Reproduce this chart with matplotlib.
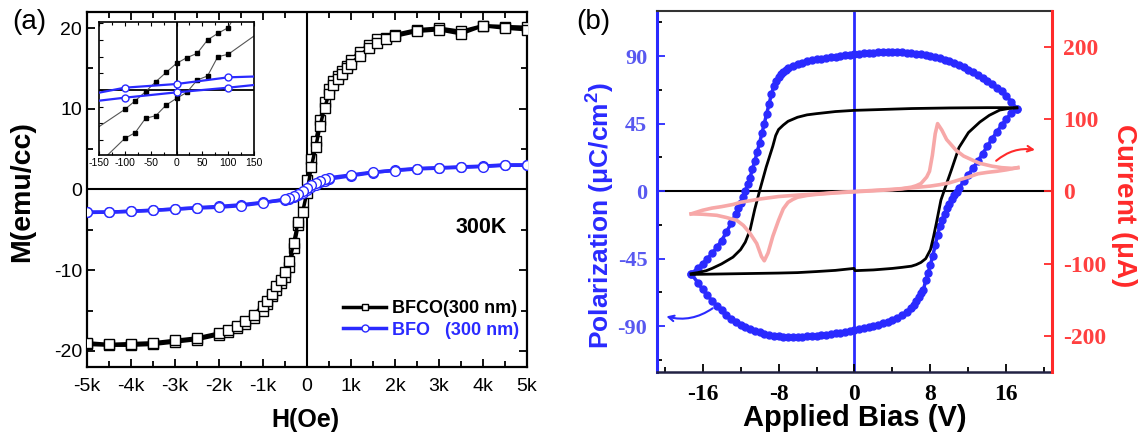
import numpy as np
import matplotlib.pyplot as plt
from matplotlib.ticker import MultipleLocator
from matplotlib.lines import Line2D

plt.rcParams['font.family'] = ['Liberation Sans', 'DejaVu Sans']
plt.rcParams['axes.unicode_minus'] = False
plt.rcParams['mathtext.fontset'] = 'custom'
plt.rcParams['mathtext.rm'] = 'Liberation Sans'
plt.rcParams['mathtext.bf'] = 'Liberation Sans:bold'

# ---- (a) M-H loops at 300 K ----
h_field = [5000, 4500, 4000, 3500, 3000, 2500, 2000, 1800, 1600, 1400, 1200, 1000,
           900, 800, 700, 600, 500, 400, 300, 200, 100, 0, -100, -200, -300, -400,
           -500, -600, -700, -800, -900, -1000, -1200, -1400, -1600, -1800, -2000,
           -2500, -3000, -3500, -4000, -4500, -5000]
bfco_m_down = [20.1, 20.2, 20.3, 19.6, 20.0, 19.8, 19.2, 18.8, 18.6, 17.9, 17.1, 16.0,
               15.3, 14.7, 14.1, 13.4, 12.4, 10.8, 8.6, 6.0, 3.8, 1.2, -1.6, -4.4, -7.2,
               -9.6, -10.9, -11.6, -12.4, -13.2, -14.2, -15.0, -15.9, -16.7, -17.2, -17.7,
               -18.0, -18.6, -18.9, -19.2, -19.3, -19.3, -19.2]
# return branch, listed from -5k up to +5k
bfco_m_up = [-19.0, -19.2, -19.1, -19.0, -18.7, -18.4, -17.8, -17.4, -16.9, -16.3, -15.5,
             -14.4, -13.8, -12.9, -12.0, -11.2, -10.2, -8.9, -6.6, -4.0, -2.8, -0.4, 2.8,
             5.3, 7.9, 10.1, 11.8, 13.0, 13.7, 14.3, 15.0, 15.6, 16.6, 17.5, 18.2, 18.6,
             19.0, 19.6, 19.8, 19.3, 20.3, 20.0, 19.8]

bfo_h = [-5000, -4500, -4000, -3500, -3000, -2500, -2000, -1500, -1000, -500, -400, -300,
         -200, -100, 0, 100, 200, 300, 400, 500, 1000, 1500, 2000, 2500, 3000, 3500,
         4000, 4500, 5000]
bfo_m_up = [-2.85, -2.8, -2.7, -2.55, -2.45, -2.25, -2.1, -1.9, -1.6, -1.3, -1.15, -0.95,
            -0.7, -0.4, -0.1, 0.3, 0.6, 0.9, 1.1, 1.3, 1.7, 2.1, 2.4, 2.6, 2.7, 2.8, 2.9,
            3.05, 3.05]
# listed from +5k down to -5k
bfo_m_down = [3.0, 3.0, 2.85, 2.75, 2.65, 2.55, 2.35, 2.15, 1.8, 1.45, 1.3, 1.1, 0.85,
              0.55, 0.2, -0.2, -0.5, -0.8, -1.0, -1.2, -1.65, -2.0, -2.2, -2.3, -2.4,
              -2.6, -2.7, -2.8, -2.8]

h_ticks = [-5000, -4000, -3000, -2000, -1000, 0, 1000, 2000, 3000, 4000, 5000]
h_ticklabels = ['-5k', '-4k', '-3k', '-2k', '-1k', '0', '1k', '2k', '3k', '4k', '5k']
m_ticks = [-20, -10, 0, 10, 20]

# inset: low-field part of the loops
inset_h = [-150, -100, -80, -60, -40, -20, 0, 20, 40, 60, 80, 100, 150]
inset_bfco_a = [-2.2, -1.16, -0.65, -0.1, 0.5, 1.06, 1.6, 1.94, 2.2, 3.0, 3.4, 3.74, 6.5]
inset_bfco_b = [-4.4, -2.9, -2.56, -1.7, -1.54, -0.9, -0.5, -0.14, 0.6, 0.84, 2.0, 2.14, 3.24]
inset_bfo_h = [-150, -100, 0, 100, 150]
inset_bfo_a = [-0.16, 0.14, 0.36, 0.76, 0.81]
inset_bfo_b = [-0.64, -0.46, -0.14, 0.14, 0.3]
inset_ticks = [-150, -100, -50, 0, 50, 100, 150]

# ---- (b) P-E loops and switching current ----
blue_down_v = [17.1, 16.5, 16.0, 15.5, 15.0, 14.5, 14.0, 13.5, 13.0, 12.5, 12.0, 11.5, 11.0,
               10.5, 10.0, 9.5, 9.0, 8.5, 8.0, 7.5, 7.0, 6.5, 6.0, 5.5, 5.0, 4.5, 4.0, 3.5,
               3.0, 2.5, 2.0, 1.5, 1.0, 0.5, 0.0, -0.5, -1.0, -1.5, -2.0, -2.5, -3.0, -3.5,
               -4.0, -4.5, -5.0, -5.5, -6.0, -6.5, -7.0, -7.25, -7.5, -7.75, -8.0, -8.25,
               -8.5, -8.75, -9.0, -9.25, -9.5, -9.75, -10.0, -10.25, -10.5, -10.75, -11.0,
               -11.25, -11.5, -11.75, -12.0, -12.25, -12.5, -13.0, -13.5, -14.0, -14.5,
               -15.0, -15.5, -16.0, -16.5, -17.2]
blue_down_p = [55, 59.5, 63.5, 66.5, 69, 71.5, 73.5, 75.5, 77.5, 79.3, 81, 82.6, 84, 85.4,
               86.6, 87.6, 88.5, 89.3, 90, 90.6, 91.1, 91.5, 91.9, 92.2, 92.4, 92.5, 92.6,
               92.6, 92.5, 92.4, 92.2, 92, 91.7, 91.4, 91.1, 90.8, 90.4, 90, 89.6, 89.2,
               88.7, 88.2, 87.7, 87.1, 86.4, 85.6, 84.7, 83.5, 81.8, 80.7, 79.5, 78, 76,
               73.5, 70, 64.5, 58, 51.5, 45, 38.5, 32, 26, 20, 14.5, 9, 4.5, 0, -4, -8,
               -11.5, -15, -21.5, -27.5, -33, -37.5, -41.5, -45, -48.5, -51.5, -55]
blue_up_v = [-17.2, -16.5, -16.0, -15.5, -15.0, -14.5, -14.0, -13.5, -13.0, -12.5, -12.0,
             -11.5, -11.0, -10.5, -10.0, -9.5, -9.0, -8.5, -8.0, -7.5, -7.0, -6.5, -6.0,
             -5.5, -5.0, -4.5, -4.0, -3.5, -3.0, -2.5, -2.0, -1.5, -1.0, -0.5, 0.0, 0.5,
             1.0, 1.5, 2.0, 2.5, 3.0, 3.5, 4.0, 4.5, 5.0, 5.5, 6.0, 6.25, 6.5, 6.75, 7.0,
             7.25, 7.5, 7.75, 8.0, 8.25, 8.5, 8.75, 9.0, 9.25, 9.5, 9.75, 10.0, 10.25,
             10.5, 10.75, 11.0, 11.5, 12.0, 12.5, 13.0, 13.5, 14.0, 14.5, 15.0, 15.5,
             16.0, 16.5, 17.1]
blue_up_p = [-55, -61, -65.5, -69.5, -73, -76.5, -79.5, -82.5, -85, -87, -89, -90.5, -92,
             -93, -94, -95, -95.8, -96.4, -96.8, -97, -97.2, -97.2, -97.1, -97, -96.8,
             -96.6, -96.3, -96, -95.6, -95.2, -94.8, -94.3, -93.8, -93.2, -92.6, -92,
             -91.3, -90.6, -89.8, -89, -88, -87, -85.8, -84.5, -82.8, -80.6, -77.8, -76,
             -73.5, -70.5, -68, -66, -59.5, -54.5, -49, -43, -36, -29, -23.5, -19, -15,
             -11.5, -8.5, -5.5, -2.8, -0.3, 2, 6.5, 11, 15.5, 20, 25, 30, 35, 39.5, 44,
             48, 52, 55]

black_down_v = [17.1, 16, 14, 12, 10, 8, 6, 4, 2, 0, -2, -4, -5, -6, -7, -7.5, -8, -8.3,
                -8.6, -9, -9.3, -9.65, -10, -10.5, -11, -11.5, -12, -12.8, -14, -15, -15.6,
                -16.5, -17.2]
black_down_p = [55.5, 55.6, 55.6, 55.5, 55.4, 55.2, 55, 54.6, 54.2, 53.8, 53, 51.6, 50.8,
                49.2, 46.5, 44, 41, 37, 30, 22, 16, 8, 0, -12, -26, -34, -39, -44, -48.5,
                -51.5, -53, -54.3, -55]
black_up_v = [-17.2, -16, -14, -12, -10, -8, -6, -4, -2, -0.05, 0.05, 2, 4, 5, 6, 6.5, 7,
              7.5, 8, 8.3, 8.6, 9.1, 9.7, 10.2, 11, 12, 13.2, 14.2, 15.3, 16.2, 17.1]
black_up_p = [-55.5, -55.4, -55.2, -55, -54.8, -54.6, -54.3, -53.6, -52.8, -51.5, -53,
              -52.5, -51.5, -50.8, -50, -49, -47.5, -45, -39, -31, -22, -6, 5, 14, 29, 39,
              46, 50.5, 54, 55, 55.5]

red_up_v = [-17.2, -16, -15, -14, -12.8, -12, -10, -8, -6, -4, -2, 0, 2, 4, 5, 6, 6.5, 7,
            7.6, 7.9, 8.2, 8.5, 8.75, 9.2, 9.7, 10.7, 11.5, 12.5, 13.2, 14.5, 15.5, 16.6, 17.2]
red_up_i = [-31, -26, -23, -21, -18, -15, -10.5, -7, -5, -3.5, -1.5, 0, 1.5, 3, 4, 6, 8, 11,
            20, 28, 50, 80, 94, 85, 72, 57, 49, 43, 39, 35, 33, 32, 33]
red_down_v = [17.2, 16, 15, 14, 13, 12, 11, 10, 9, 8, 6, 4, 2, 0, -2, -4, -5, -6, -6.5, -7,
              -7.5, -8, -8.6, -9.1, -9.5, -9.8, -10.3, -11, -11.7, -12.4, -13.5, -14.5,
              -16, -17.2]
red_down_i = [33, 30, 28, 26.5, 24.5, 20, 16, 12, 9.5, 7.5, 5, 2.5, 1, -0.5, -2, -4, -5.5,
              -8, -11, -15, -24, -40, -62, -85, -96, -90, -72, -58, -47, -40, -36, -33,
              -31.5, -31]

v_ticks = [-16, -8, 0, 8, 16]
p_ticks = [-90, -45, 0, 45, 90]
i_ticks = [-200, -100, 0, 100, 200]

BLUE = '#2a2aff'
RED = '#ff2a2a'
PINK = '#f7a8a8'

fig = plt.figure(figsize=(11.41, 4.41), dpi=100)

# ---------- panel (a) ----------
ax1 = fig.add_axes([0.0762, 0.1678, 0.3856, 0.805])
ax1.axhline(0, color='black', lw=1.5, zorder=1)
ax1.axvline(0, color='black', lw=1.5, zorder=1)
sq = dict(marker='s', ms=7, mfc='white', mec='black', mew=1.0)
ax1.plot(h_field, bfco_m_down, color='black', lw=2.5, zorder=3, **sq)
ax1.plot(h_field[::-1], bfco_m_up, color='black', lw=2.5, zorder=3, **sq)
ci = dict(marker='o', ms=7, mfc='white', mec=BLUE, mew=1.0)
ax1.plot(bfo_h, bfo_m_up, color=BLUE, lw=2.5, zorder=4, **ci)
ax1.plot(bfo_h[::-1], bfo_m_down, color=BLUE, lw=2.5, zorder=4, **ci)

ax1.set_xlim(-5000, 5000)
ax1.set_ylim(-22, 22)
ax1.set_xticks(h_ticks)
ax1.set_xticklabels(h_ticklabels)
ax1.set_yticks(m_ticks)
ax1.xaxis.set_minor_locator(MultipleLocator(500))
ax1.yaxis.set_minor_locator(MultipleLocator(5))
ax1.tick_params(which='both', direction='in', top=True, right=True, width=1.3,
                labelsize=14, colors='black')
ax1.tick_params(which='major', length=6)
ax1.tick_params(which='minor', length=4)
ax1.tick_params(axis='x', pad=8)
for s in ax1.spines.values():
    s.set_linewidth(1.6)

ax1.text(3960, -4.7, '300K', fontsize=15.5, fontweight='bold', ha='center', va='center')

h1 = Line2D([], [], color='black', lw=2.5, marker='s', ms=5, mfc='white', mec='black')
h2 = Line2D([], [], color=BLUE, lw=2.5, marker='o', ms=5, mfc='white', mec=BLUE)
leg = ax1.legend([h1, h2], ['BFCO(300 nm)', 'BFO   (300 nm)'], loc='center left',
                 bbox_to_anchor=(0.545, 0.134), frameon=False, handlelength=2.4,
                 handletextpad=0.3, labelspacing=0.25,
                 prop={'size': 13, 'weight': 'bold'})
leg.get_texts()[0].set_color('black')
leg.get_texts()[1].set_color(BLUE)

# inset
axi = fig.add_axes([0.0868, 0.6485, 0.1358, 0.3016])
axi.axhline(0, color='black', lw=1.3, zorder=1)
axi.axvline(0, color='black', lw=1.3, zorder=1)
fs = dict(marker='s', ms=3.2, mfc='black', mec='black', markevery=slice(1, -1))
axi.plot(inset_h, inset_bfco_a, color='#555555', lw=0.8, zorder=2, **fs)
axi.plot(inset_h, inset_bfco_b, color='#555555', lw=0.8, zorder=2, **fs)
oc = dict(marker='o', ms=5, mfc='white', mec=BLUE, mew=1.0, markevery=slice(1, -1))
axi.plot(inset_bfo_h, inset_bfo_a, color=BLUE, lw=1.6, zorder=3, **oc)
axi.plot(inset_bfo_h, inset_bfo_b, color=BLUE, lw=1.6, zorder=3, **oc)
axi.set_xlim(-150, 150)
axi.set_ylim(-3.9, 4.08)
axi.set_xticks(inset_ticks)
axi.xaxis.set_minor_locator(MultipleLocator(25))
axi.yaxis.set_major_locator(MultipleLocator(1))
axi.set_yticklabels([])
axi.tick_params(which='both', direction='in', top=True, labelsize=7.5, pad=2,
                width=0.8, colors='black')
axi.tick_params(which='major', length=3)
axi.tick_params(which='minor', length=2)
for s in axi.spines.values():
    s.set_linewidth(1.2)

fig.text(22 / 1141, 1 - 192 / 441, 'M(emu/cc)', rotation=90, fontsize=20.5,
         fontweight='bold', ha='center', va='center')
fig.text(305 / 1141, 1 - 420 / 441, 'H(Oe)', fontsize=18, fontweight='bold',
         ha='center', va='center')
fig.text(12 / 1141, 1 - 22 / 441, '(a)', fontsize=20, ha='left', va='center')

# ---------- panel (b) ----------
ax2 = fig.add_axes([0.5758, 0.1565, 0.3462, 0.8186])
ax2.axhline(0, color='black', lw=1.5, zorder=1)
ax2.axvline(0, color=BLUE, lw=2.0, zorder=1)
ax2.plot(blue_down_v, blue_down_p, color=BLUE, lw=2.5, marker='o', ms=5, mec=BLUE,
         mfc=BLUE, zorder=2)
ax2.plot(blue_up_v, blue_up_p, color=BLUE, lw=2.5, marker='o', ms=5, mec=BLUE,
         mfc=BLUE, zorder=2)
ax2.plot(black_down_v, black_down_p, color='black', lw=2.0, zorder=3)
ax2.plot(black_up_v, black_up_p, color='black', lw=2.0, zorder=3)
ax2.set_xlim(-20.8, 20.8)
ax2.set_ylim(-120.5, 120)
ax2.set_xticks(v_ticks)
ax2.set_yticks(p_ticks)
ax2.xaxis.set_minor_locator(MultipleLocator(4))
ax2.yaxis.set_minor_locator(MultipleLocator(22.5))
serif = ['Liberation Serif', 'DejaVu Serif']
ax2.tick_params(which='both', direction='in', width=1.3)
ax2.tick_params(which='major', length=6)
ax2.tick_params(which='minor', length=3.5)
ax2.tick_params(axis='y', colors=BLUE, pad=7)
ax2.tick_params(axis='x', colors='black', pad=9)
for lab in ax2.get_yticklabels():
    lab.set_family(serif)
    lab.set_fontweight('bold')
    lab.set_fontsize(16)
    lab.set_color('#5858f0')
for lab in ax2.get_xticklabels():
    lab.set_family(serif)
    lab.set_fontweight('bold')
    lab.set_fontsize(17)
ax2.spines['left'].set_color(BLUE)
ax2.spines['left'].set_linewidth(2.2)
ax2.spines['top'].set_color('#333333')
ax2.spines['top'].set_linewidth(1.5)
ax2.spines['bottom'].set_color('#222244')
ax2.spines['bottom'].set_linewidth(1.8)
ax2.spines['right'].set_visible(False)

ax3 = ax2.twinx()
ax3.plot(red_up_v, red_up_i, color=PINK, lw=2.6, zorder=4)
ax3.plot(red_down_v, red_down_i, color=PINK, lw=2.6, zorder=4)
ax3.set_ylim(-250, 250)
ax3.set_yticks(i_ticks)
ax3.yaxis.set_minor_locator(MultipleLocator(50))
ax3.tick_params(which='both', direction='in', colors=RED, width=1.3, pad=8)
ax3.tick_params(which='major', length=6)
ax3.tick_params(which='minor', length=0)
for lab in ax3.get_yticklabels():
    lab.set_family(serif)
    lab.set_fontweight('bold')
    lab.set_fontsize(17)
    lab.set_color('#ff4040')
for side in ['left', 'top', 'bottom']:
    ax3.spines[side].set_visible(False)
ax3.spines['right'].set_color(RED)
ax3.spines['right'].set_linewidth(2.2)

ax2.annotate('', xy=(-20.1, -83), xytext=(-14.7, -77),
             arrowprops=dict(arrowstyle='->', color=BLUE, lw=1.5,
                             connectionstyle='arc3,rad=-0.25'), zorder=5)
ax3.annotate('', xy=(19.3, 57), xytext=(14.7, 40),
             arrowprops=dict(arrowstyle='->', color=RED, lw=1.5,
                             connectionstyle='arc3,rad=-0.25'), zorder=5)

fig.text(600 / 1141, 1 - 215 / 441, r'Polarization ($\mathbf{\mu}$C/cm$^\mathbf{2}$)',
         rotation=90, fontsize=19, fontweight='bold', color=BLUE, ha='center', va='center')
fig.text(1124 / 1141, 1 - 205 / 441, r'Current ($\mathbf{\mu}$A)', rotation=-90,
         fontsize=20, fontweight='bold', color=RED, ha='center', va='center')
fig.text(855 / 1141, 1 - 418 / 441, 'Applied Bias (V)', fontsize=21, fontweight='bold',
         ha='center', va='center')
fig.text(576 / 1141, 1 - 22 / 441, '(b)', fontsize=20, ha='left', va='center')

fig.savefig('out.png', dpi=100)
